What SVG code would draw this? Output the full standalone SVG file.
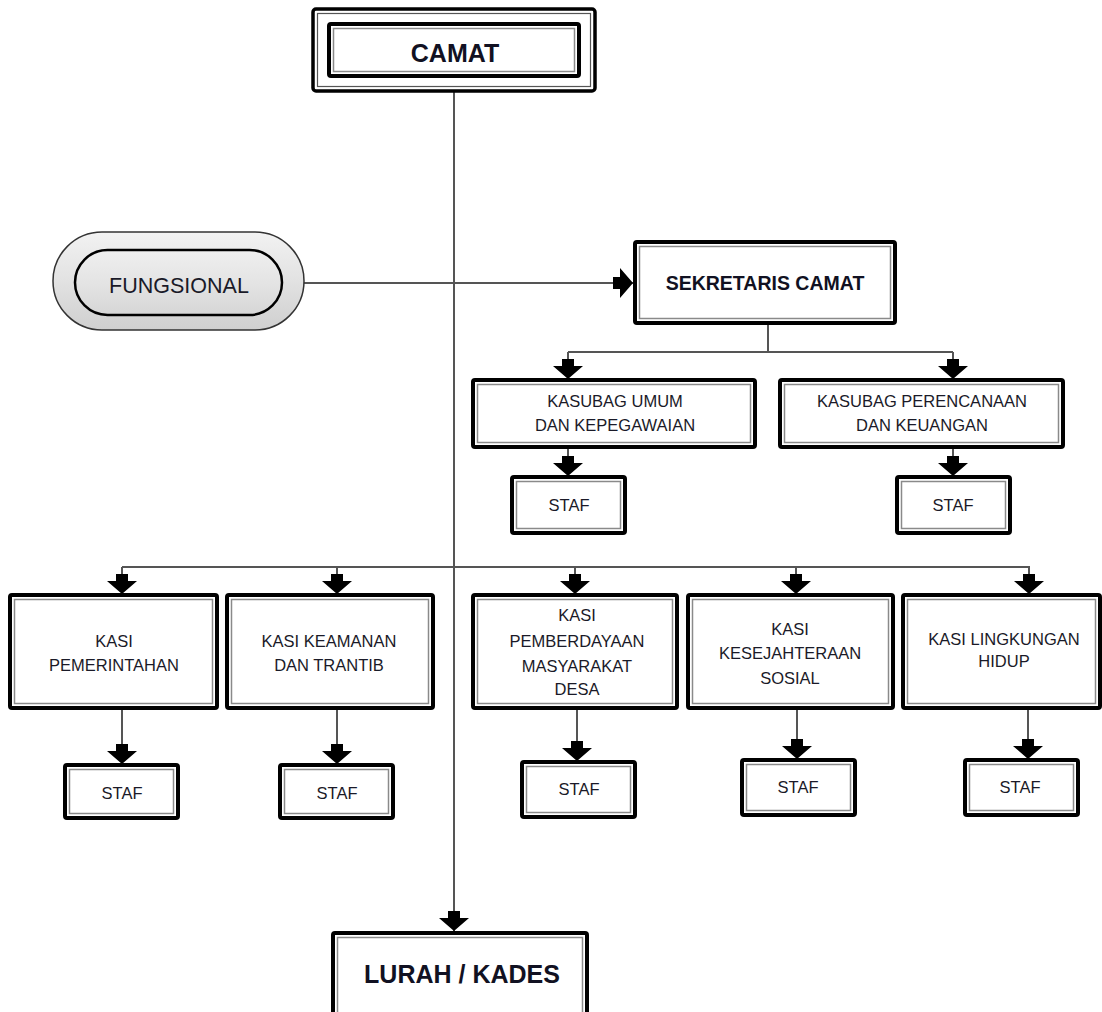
<svg xmlns="http://www.w3.org/2000/svg" width="1102" height="1012" viewBox="0 0 1102 1012">
<defs>
<marker id="arr" viewBox="-21 -16 22 32" markerWidth="22" markerHeight="32" refX="0" refY="0" orient="auto" markerUnits="userSpaceOnUse" overflow="visible">
<path d="M0,0 L-13,-15 L-13,-6 L-20,-6 L-20,6 L-13,6 L-13,15 Z" fill="#000"/>
</marker>
<linearGradient id="pillOuter" x1="0" y1="0" x2="0" y2="1">
<stop offset="0" stop-color="#f2f2f2"/>
<stop offset="0.5" stop-color="#e2e2e2"/>
<stop offset="1" stop-color="#cfcfcf"/>
</linearGradient>
<linearGradient id="pillInner" x1="0" y1="0" x2="0" y2="1">
<stop offset="0" stop-color="#efefef"/>
<stop offset="0.5" stop-color="#e4e4e4"/>
<stop offset="1" stop-color="#d6d6d6"/>
</linearGradient>
</defs>
<style>
.ob{fill:#fff;stroke:#000;stroke-width:4}
.ib{fill:none;stroke:#8a8a8a;stroke-width:1.5}
.t{font-family:"Liberation Sans",Arial,sans-serif;font-size:16.5px;fill:#1a1a28;text-anchor:middle}
.tb{font-family:"Liberation Sans",Arial,sans-serif;font-weight:bold;fill:#111122;text-anchor:middle}
.big{font-size:25px}
.sek{font-size:19.5px}
.fung{font-size:21.5px}
.c{fill:none;stroke:#555;stroke-width:2}
.ca{fill:none;stroke:#555;stroke-width:2;marker-end:url(#arr)}
</style>
<rect width="1102" height="1012" fill="#fff"/>

<g id="connectors">
<path class="ca" d="M454,91 V931"/>
<path class="ca" d="M304,283 H633"/>
<path class="c" d="M768,323 V352 M568,352 H953"/>
<path class="ca" d="M568,352 V379"/>
<path class="ca" d="M953,352 V379"/>
<path class="ca" d="M568,447 V476"/>
<path class="ca" d="M953,447 V476"/>
<path class="c" d="M122,567 H1030"/>
<path class="ca" d="M122,567 V594"/>
<path class="ca" d="M337,567 V594"/>
<path class="ca" d="M575,567 V594"/>
<path class="ca" d="M796,567 V594"/>
<path class="ca" d="M1029,567 V594"/>
<path class="ca" d="M122,708 V764"/>
<path class="ca" d="M337,708 V764"/>
<path class="ca" d="M577,708 V761"/>
<path class="ca" d="M797,708 V759"/>
<path class="ca" d="M1028,708 V759"/>
</g>

<g id="camat">
<rect x="313" y="9" width="282" height="82" rx="3" fill="#fff" stroke="#000" stroke-width="3.5"/>
<rect x="317.5" y="13.5" width="273" height="73" fill="none" stroke="#555" stroke-width="1.2"/>
<rect x="329" y="24" width="250" height="52" rx="2" class="ob"/>
<rect x="333.5" y="28.5" width="241" height="43" class="ib"/>
<text class="tb big" x="455" y="62">CAMAT</text>
</g>

<g id="fungsional">
<rect x="53" y="232" width="251" height="98" rx="49" fill="url(#pillOuter)" stroke="#333" stroke-width="1.5"/>
<rect x="75" y="250" width="207" height="65" rx="32.5" fill="url(#pillInner)" stroke="#000" stroke-width="2.5"/>
<text class="t fung" x="179" y="293">FUNGSIONAL</text>
</g>

<g id="sekretaris">
<rect x="635" y="242" width="260" height="81" rx="2" class="ob"/>
<rect x="639.5" y="246.5" width="251" height="72" class="ib"/>
<text class="tb sek" x="765" y="290">SEKRETARIS CAMAT</text>
</g>

<g id="kasubag-umum">
<rect x="473" y="380" width="282" height="67" rx="2" class="ob"/>
<rect x="477.5" y="384.5" width="273" height="58" class="ib"/>
<text class="t" x="615" y="407">KASUBAG UMUM</text>
<text class="t" x="615" y="431">DAN KEPEGAWAIAN</text>
</g>

<g id="kasubag-perencanaan">
<rect x="780" y="380" width="283" height="67" rx="2" class="ob"/>
<rect x="784.5" y="384.5" width="274" height="58" class="ib"/>
<text class="t" x="922" y="407">KASUBAG PERENCANAAN</text>
<text class="t" x="922" y="431">DAN KEUANGAN</text>
</g>

<g id="staf-umum">
<rect x="512" y="477" width="113" height="56" rx="2" class="ob"/>
<rect x="516.5" y="481.5" width="104" height="47" class="ib"/>
<text class="t" x="569" y="511">STAF</text>
</g>

<g id="staf-perencanaan">
<rect x="897" y="477" width="113" height="56" rx="2" class="ob"/>
<rect x="901.5" y="481.5" width="104" height="47" class="ib"/>
<text class="t" x="953" y="511">STAF</text>
</g>

<g id="kasi-pemerintahan">
<rect x="10" y="595" width="207" height="113" rx="2" class="ob"/>
<rect x="14.5" y="599.5" width="198" height="104" class="ib"/>
<text class="t" x="114" y="647">KASI</text>
<text class="t" x="114" y="671">PEMERINTAHAN</text>
</g>

<g id="kasi-keamanan">
<rect x="227" y="595" width="206" height="113" rx="2" class="ob"/>
<rect x="231.5" y="599.5" width="197" height="104" class="ib"/>
<text class="t" x="329" y="647">KASI KEAMANAN</text>
<text class="t" x="329" y="671">DAN TRANTIB</text>
</g>

<g id="kasi-pemberdayaan">
<rect x="473" y="595" width="204" height="113" rx="2" class="ob"/>
<rect x="477.5" y="599.5" width="195" height="104" class="ib"/>
<text class="t" x="577" y="621">KASI</text>
<text class="t" x="577" y="647">PEMBERDAYAAN</text>
<text class="t" x="577" y="672">MASYARAKAT</text>
<text class="t" x="577" y="695">DESA</text>
</g>

<g id="kasi-kesejahteraan">
<rect x="688" y="595" width="205" height="113" rx="2" class="ob"/>
<rect x="692.5" y="599.5" width="196" height="104" class="ib"/>
<text class="t" x="790" y="635">KASI</text>
<text class="t" x="790" y="659">KESEJAHTERAAN</text>
<text class="t" x="790" y="684">SOSIAL</text>
</g>

<g id="kasi-lingkungan">
<rect x="903" y="595" width="197" height="113" rx="2" class="ob"/>
<rect x="907.5" y="599.5" width="188" height="104" class="ib"/>
<text class="t" x="1004" y="645">KASI LINGKUNGAN</text>
<text class="t" x="1004" y="667">HIDUP</text>
</g>

<g id="staf-1">
<rect x="65" y="765" width="113" height="53" rx="2" class="ob"/>
<rect x="69.5" y="769.5" width="104" height="44" class="ib"/>
<text class="t" x="122" y="799">STAF</text>
</g>

<g id="staf-2">
<rect x="280" y="765" width="113" height="53" rx="2" class="ob"/>
<rect x="284.5" y="769.5" width="104" height="44" class="ib"/>
<text class="t" x="337" y="799">STAF</text>
</g>

<g id="staf-3">
<rect x="522" y="762" width="113" height="55" rx="2" class="ob"/>
<rect x="526.5" y="766.5" width="104" height="46" class="ib"/>
<text class="t" x="579" y="795">STAF</text>
</g>

<g id="staf-4">
<rect x="742" y="760" width="113" height="55" rx="2" class="ob"/>
<rect x="746.5" y="764.5" width="104" height="46" class="ib"/>
<text class="t" x="798" y="793">STAF</text>
</g>

<g id="staf-5">
<rect x="965" y="760" width="113" height="55" rx="2" class="ob"/>
<rect x="969.5" y="764.5" width="104" height="46" class="ib"/>
<text class="t" x="1020" y="793">STAF</text>
</g>

<g id="lurah-kades">
<rect x="333" y="933" width="254" height="95" rx="2" class="ob"/>
<rect x="337.5" y="937.5" width="245" height="86" class="ib"/>
<text class="tb big" x="462" y="983">LURAH / KADES</text>
</g>
</svg>
